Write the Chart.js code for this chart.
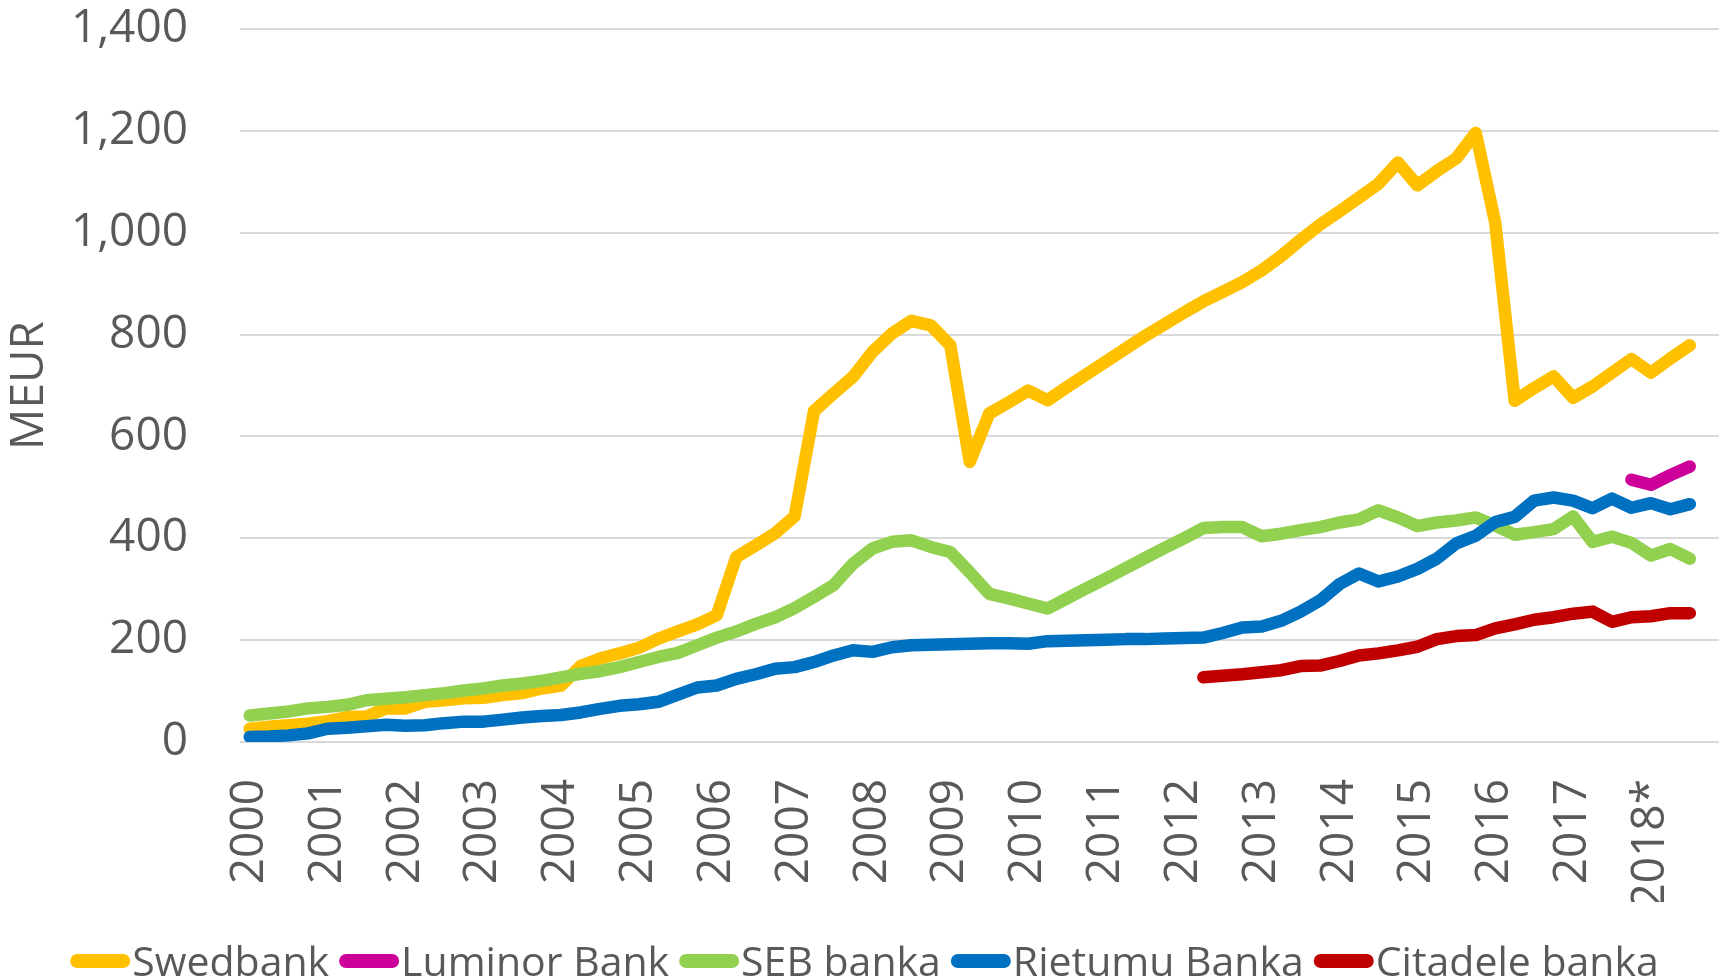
<!DOCTYPE html>
<html>
<head>
<meta charset="utf-8">
<title>Deposits by bank</title>
<script src="https://cdn.jsdelivr.net/npm/chart.js@4.4.0/dist/chart.umd.min.js"></script>
<style>
  html, body { margin: 0; padding: 0; background: #ffffff; }
  #chart { display: block; }
</style>
</head>
<body>
<canvas id="chart" width="1729" height="980"></canvas>
<script>
document.addEventListener("DOMContentLoaded", function () {

    /**
     * data: quarterly values, MEUR (2000 Q1 .. 2018 Q4)
     */
    const years = ['2000', '2001', '2002', '2003', '2004', '2005', '2006', '2007', '2008', '2009',
                   '2010', '2011', '2012', '2013', '2014', '2015', '2016', '2017', '2018*'];
    const quarterNames = ['Q1', 'Q2', 'Q3', 'Q4'];

    const swedbank = [26, 30, 33, 36, 41, 49, 50, 66, 66, 79, 82, 86, 87, 92, 96, 105,
                      111, 149, 164, 174, 185, 203, 217, 231, 249, 363, 386, 410, 443, 650, 684, 717,
                      766, 802, 827, 818, 779, 550, 645, 667, 690, 671, 697, 722, 747, 772, 797, 820,
                      843, 865, 884, 903, 926, 954, 986, 1016, 1042, 1069, 1096, 1138, 1093, 1121, 1146, 1196,
                      1020, 670, 695, 718, 676, 698, 725, 752, 725, 753, 779];
    const luminorStart = 71; // 2017 Q4
    const luminor = [515, 505, 524, 541];
    const seb = [52, 56, 60, 66, 69, 73, 82, 85, 88, 92, 96, 101, 105, 111, 115, 120,
                 127, 134, 139, 147, 157, 167, 175, 190, 205, 217, 232, 245, 263, 285, 308, 350,
                 380, 393, 396, 383, 373, 333, 291, 282, 272, 262, 282, 302, 321, 341, 361, 381,
                 400, 420, 422, 422, 404, 409, 416, 422, 431, 437, 455, 441, 424, 431, 435, 441,
                 425, 407, 412, 418, 443, 393, 403, 391, 366, 379, 360];
    const rietumu = [10, 11, 13, 17, 26, 28, 31, 34, 32, 33, 37, 40, 40, 44, 48, 51,
                     53, 58, 65, 71, 74, 79, 93, 107, 111, 124, 133, 144, 147, 157, 170, 180,
                     177, 186, 190, 191, 192, 193, 194, 194, 193, 198, 199, 200, 201, 202, 202, 203,
                     204, 205, 214, 225, 227, 238, 256, 278, 310, 331, 315, 325, 340, 360, 390, 405,
                     432, 442, 474, 480, 474, 459, 478, 460, 469, 457, 467];
    const citadeleStart = 49; // 2012 Q2
    const citadele = [127, 130, 133, 137, 141, 149, 150, 159, 170, 174, 180, 187, 202, 208, 210,
                      223, 231, 240, 245, 252, 256, 236, 245, 247, 253, 253];

    const categories = [];
    years.forEach(function (y) {
        quarterNames.forEach(function (q) { categories.push(y + ' ' + q); });
    });

    function pad(first, values) {
        const out = new Array(categories.length).fill(null);
        values.forEach(function (v, i) { out[first + i] = v; });
        return out;
    }

    const textColor = '#595959';
    const gridColor = '#d9d9d9';
    const fontFamily = '"Open Sans", sans-serif';

    function series(label, data, color, order) {
        return {
            label: label,
            data: data,
            borderColor: color,
            backgroundColor: color,
            borderWidth: 12.5,
            borderCapStyle: 'round',
            borderJoinStyle: 'round',
            pointRadius: 0,
            pointHoverRadius: 0,
            tension: 0,
            fill: false,
            spanGaps: false,
            order: order
        };
    }

    /**
     * legend drawn under the axis, line + label like the office style
     */
    const bottomLegend = {
        id: 'bottomLegend',
        afterDraw: function (chart) {
            const ctx = chart.ctx;
            ctx.save();
            ctx.font = '41px ' + fontFamily;
            const items = chart.data.datasets.map(function (ds) {
                return { text: ds.label, color: ds.borderColor, w: ctx.measureText(ds.label).width };
            });
            const lineW = 60, gap = 2, itemGap = 10;
            let total = itemGap * (items.length - 1);
            items.forEach(function (it) { total += lineW + gap + it.w; });
            let x = (chart.width - total) / 2;
            items.forEach(function (it) {
                ctx.strokeStyle = it.color;
                ctx.lineWidth = 14;
                ctx.lineCap = 'round';
                ctx.beginPath();
                ctx.moveTo(x + 7, 961);
                ctx.lineTo(x + lineW - 7, 961);
                ctx.stroke();
                x += lineW + gap;
                ctx.fillStyle = textColor;
                ctx.textBaseline = 'alphabetic';
                ctx.fillText(it.text, x, 976);
                x += it.w + itemGap;
            });
            ctx.restore();
        }
    };

    new Chart(document.getElementById('chart'), {
        type: 'line',
        data: {
            labels: categories,
            datasets: [
                series('Swedbank', pad(0, swedbank), '#FFC000', 5),
                series('Luminor Bank', pad(luminorStart, luminor), '#CC0099', 4),
                series('SEB banka', pad(0, seb), '#92D050', 3),
                series('Rietumu Banka', pad(0, rietumu), '#0070C0', 2),
                series('Citadele banka', pad(citadeleStart, citadele), '#C00000', 1)
            ]
        },
        options: {
            responsive: false,
            animation: false,
            devicePixelRatio: 1,
            layout: { padding: { top: 29, right: 10, bottom: 78, left: 0 } },
            plugins: {
                legend: { display: false },
                tooltip: { enabled: false }
            },
            scales: {
                x: {
                    offset: true,
                    grid: { display: false, drawTicks: false },
                    border: { display: false },
                    ticks: {
                        autoSkip: false,
                        minRotation: 90,
                        maxRotation: 90,
                        padding: 37,
                        color: textColor,
                        font: { family: fontFamily, size: 46 },
                        callback: function (value, index) {
                            return index % 4 === 0 ? years[index / 4] : '';
                        }
                    },
                    afterFit: function (scale) {
                        scale.height = 160;
                        scale.paddingLeft = 0;
                        scale.paddingRight = 0;
                    }
                },
                y: {
                    min: 0,
                    max: 1400,
                    grid: { color: gridColor, lineWidth: 2, drawTicks: false },
                    border: { display: false },
                    ticks: {
                        stepSize: 200,
                        padding: 52,
                        color: textColor,
                        font: { family: fontFamily, size: 46 },
                        callback: function (v) { return v.toLocaleString('en-US'); }
                    },
                    title: {
                        display: true,
                        text: 'MEUR',
                        color: textColor,
                        padding: { top: 2, bottom: 0 },
                        font: { family: fontFamily, size: 46 }
                    },
                    afterFit: function (scale) {
                        scale.width = 240;
                        scale.paddingTop = 0;
                        scale.paddingBottom = 0;
                    }
                }
            }
        },
        plugins: [bottomLegend]
    });
});
</script>
</body>
</html>
